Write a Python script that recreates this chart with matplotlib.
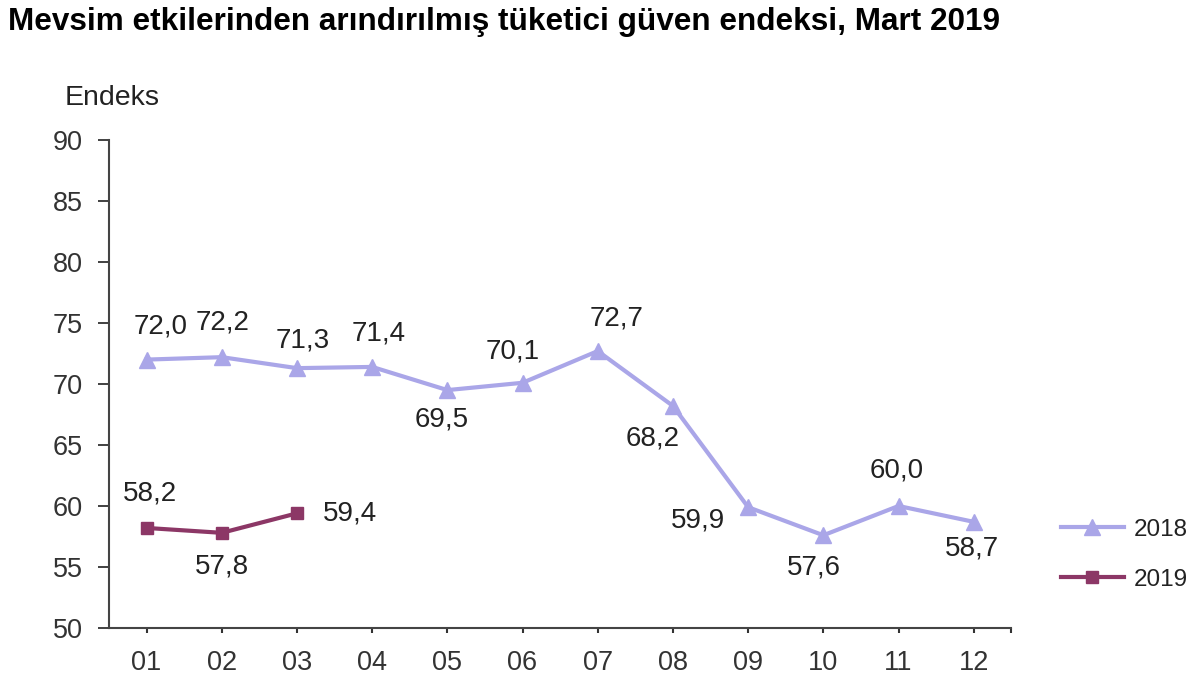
import matplotlib.pyplot as plt

plt.rcParams['font.family'] = ['Liberation Sans', 'DejaVu Sans']

# Data
months = ['01', '02', '03', '04', '05', '06', '07', '08', '09', '10', '11', '12']
vals_2018 = [72.0, 72.2, 71.3, 71.4, 69.5, 70.1, 72.7, 68.2, 59.9, 57.6, 60.0, 58.7]
vals_2019 = [58.2, 57.8, 59.4]

# label offsets in pixels (dx, dy) for each point
off_2018 = [(14, 33), (1, 35), (6, 28), (7, 33), (-6, -29), (-10, 31), (19, 33), (-20, -33), (-50, -13), (-10, -32), (-2, 35), (-2, -27)]
off_2019 = [(3, 34), (0, -34), (53, 0)]

c18 = '#aaa6e8'
c19 = '#8c3766'
txt = '#222222'

fig = plt.figure(figsize=(12, 6.82), dpi=100)
ax = fig.add_axes([0.0908, 0.0792, 0.752, 0.7155])

x18 = range(len(vals_2018))
x19 = range(len(vals_2019))
ax.plot(x18, vals_2018, color=c18, lw=3, marker='^', ms=11, label='2018')
ax.plot(x19, vals_2019, color=c19, lw=3, marker='s', ms=9, label='2019')

for i, v in enumerate(vals_2018):
    dx, dy = off_2018[i]
    ax.annotate(f"{v:.1f}".replace('.', ','), (i, v), xytext=(dx, dy),
                textcoords='offset pixels', ha='center', va='center',
                fontsize=20, color=txt)
for i, v in enumerate(vals_2019):
    dx, dy = off_2019[i]
    ax.annotate(f"{v:.1f}".replace('.', ','), (i, v), xytext=(dx, dy),
                textcoords='offset pixels', ha='center', va='center',
                fontsize=20, color=txt)

ax.set_xlim(-0.5, len(months) - 0.5)
ax.set_ylim(50, 90)
ax.set_yticks(range(50, 91, 5))
ax.set_xticks(list(x18))
ax.set_xticklabels(months)
ax.set_xticks([len(months) - 0.5], minor=True)
ax.tick_params(axis='y', length=8, width=1.3, pad=11, labelsize=19.5, colors='#333333')
ax.tick_params(axis='x', which='both', length=3.5, width=1.5, pad=12, labelsize=19.5, colors='#333333')
for s in ['top', 'right']:
    ax.spines[s].set_visible(False)
for s in ['left', 'bottom']:
    ax.spines[s].set_color('#444444')
    ax.spines[s].set_linewidth(1.5)

leg = ax.legend(loc='center left', bbox_to_anchor=(1.033, 0.15), frameon=False,
                fontsize=17.5, handlelength=2.6, labelspacing=1.15, handletextpad=0.4,
                borderpad=0.3)
for t in leg.get_texts():
    t.set_color(txt)

fig.text(0.007, 0.968, 'Mevsim etkilerinden arındırılmış tüketici güven endeksi, Mart 2019',
         fontsize=22.7, fontweight='bold', ha='left', va='center')
fig.text(0.054, 0.856, 'Endeks', fontsize=20.5, ha='left', va='center', color=txt)

fig.savefig('out.png', dpi=100)
